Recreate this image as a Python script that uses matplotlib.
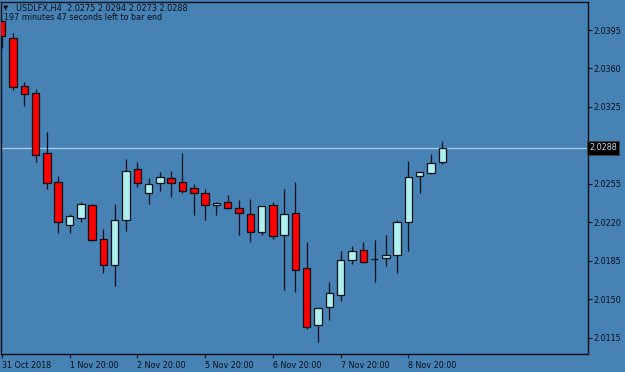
import numpy as np
import matplotlib
matplotlib.use("Agg")
import matplotlib.pyplot as plt

# ============================================================
# Data (USDLFX, H4 candles)
# ============================================================
opens = [2.0403, 2.0388, 2.0344, 2.0338, 2.0283, 2.0257, 2.0218, 2.0224, 2.0236, 2.0205,
         2.0181, 2.0222, 2.0269, 2.0247, 2.0256, 2.0260, 2.0257, 2.0251, 2.0247, 2.0236,
         2.0239, 2.0233, 2.0228, 2.0211, 2.0236, 2.0209, 2.0229, 2.0179, 2.0127, 2.0143,
         2.0154, 2.0186, 2.0195, 2.0187, 2.0188, 2.0190, 2.0220, 2.0262, 2.0265, 2.0275]
highs = [2.0404, 2.0392, 2.0348, 2.0341, 2.0302, 2.0262, 2.0228, 2.0239, 2.0237, 2.0214,
         2.0237, 2.0278, 2.0275, 2.0260, 2.0266, 2.0267, 2.0283, 2.0255, 2.0250, 2.0239,
         2.0245, 2.0240, 2.0241, 2.0235, 2.0239, 2.0250, 2.0257, 2.0202, 2.0142, 2.0166,
         2.0194, 2.0199, 2.0202, 2.0204, 2.0209, 2.0222, 2.0276, 2.0266, 2.0282, 2.0294]
lows = [2.0379, 2.0340, 2.0326, 2.0275, 2.0250, 2.0210, 2.0210, 2.0220, 2.0203, 2.0174,
        2.0162, 2.0212, 2.0252, 2.0237, 2.0249, 2.0243, 2.0247, 2.0227, 2.0222, 2.0227,
        2.0232, 2.0209, 2.0202, 2.0209, 2.0205, 2.0159, 2.0157, 2.0123, 2.0111, 2.0131,
        2.0149, 2.0182, 2.0183, 2.0166, 2.0180, 2.0174, 2.0194, 2.0247, 2.0264, 2.0273]
closes = [2.0390, 2.0343, 2.0337, 2.0281, 2.0256, 2.0220, 2.0226, 2.0237, 2.0204, 2.0181,
          2.0222, 2.0267, 2.0256, 2.0255, 2.0261, 2.0256, 2.0249, 2.0247, 2.0236, 2.0238,
          2.0233, 2.0229, 2.0211, 2.0235, 2.0208, 2.0228, 2.0177, 2.0125, 2.0142, 2.0156,
          2.0186, 2.0194, 2.0184, 2.0187, 2.0190, 2.0220, 2.0261, 2.0266, 2.0274, 2.0288]

x_tick_bars = [0, 6, 12, 18, 24, 30, 36]
x_tick_labels = ["31 Oct 2018", "1 Nov 20:00", "2 Nov 20:00", "5 Nov 20:00",
                 "6 Nov 20:00", "7 Nov 20:00", "8 Nov 20:00"]
y_ticks = [2.0395, 2.0360, 2.0325, 2.0255, 2.0220, 2.0185, 2.0150, 2.0115]

symbol = "USDLFX,H4"
last_bid = closes[-1]
timer_text = "197 minutes 47 seconds left to bar end"

# ============================================================
# Style
# ============================================================
bg = "#4682B4"
bull_col = "#B0F0EE"
bear_col = "#FF0000"
ink = "#0a0f1a"
W, H = 625, 372

fig = plt.figure(figsize=(W / 100, H / 100), dpi=100)
fig.patch.set_facecolor(bg)

# plot box in pixel terms: x 1.5..587.5, y 1.5..354
ax = fig.add_axes([1.5 / W, 1 - 354 / H, 586 / W, 352.5 / H])
ax.set_facecolor(bg)

o = np.array(opens); h = np.array(highs); l = np.array(lows); c = np.array(closes)
xs = np.arange(len(o))
up = c >= o

# wicks
ax.vlines(xs, l, h, color=ink, linewidth=0.9, zorder=2)
# bodies
bottoms = np.minimum(o, c)
heights = np.abs(c - o)
ax.bar(xs, heights, bottom=bottoms, width=0.66,
       color=np.where(up, bull_col, bear_col), edgecolor=ink, linewidth=0.9, zorder=3)

# bid line
ax.axhline(last_bid, color="#A9C6E2", linewidth=1.0, zorder=1)

ax.set_xlim(-0.02, 51.85)
ax.set_ylim(2.010045, 2.042091)

# axes frame
for s in ax.spines.values():
    s.set_color(ink)
    s.set_linewidth(1.0)

ax.yaxis.tick_right()
ax.set_yticks(y_ticks)
ax.set_yticklabels([f"{v:.4f}" for v in y_ticks])
ax.set_xticks(x_tick_bars)
ax.set_xticklabels(x_tick_labels, ha="left")
ax.tick_params(axis="both", colors=ink, labelsize=5.8, length=3, width=0.8,
               direction="out", pad=1.5)
ax.tick_params(axis="x", pad=2)

# price label on the right scale
ax.text(1.003, last_bid, f"{last_bid:.4f}", transform=ax.get_yaxis_transform(),
        fontsize=5.8, color="#D0DAE8", va="center", ha="left", zorder=5,
        bbox=dict(boxstyle="square,pad=0.3", facecolor="black", edgecolor="#404040", linewidth=0.6))

# header text
hdr = f"{symbol}  {opens[-1]:.4f} {highs[-1]:.4f} {lows[-1]:.4f} {closes[-1]:.4f}"
fig.text(3.0 / W, 1 - 8.5 / H, "\u25BC", fontsize=5, color=ink, va="center", ha="left")
fig.text(15.5 / W, 1 - 8 / H, hdr, fontsize=5.9, color=ink, va="center", ha="left")
fig.text(4 / W, 1 - 17.5 / H, timer_text, fontsize=5.8, color=ink, va="center", ha="left")

fig.savefig("out.png", dpi=100, facecolor=fig.get_facecolor())
